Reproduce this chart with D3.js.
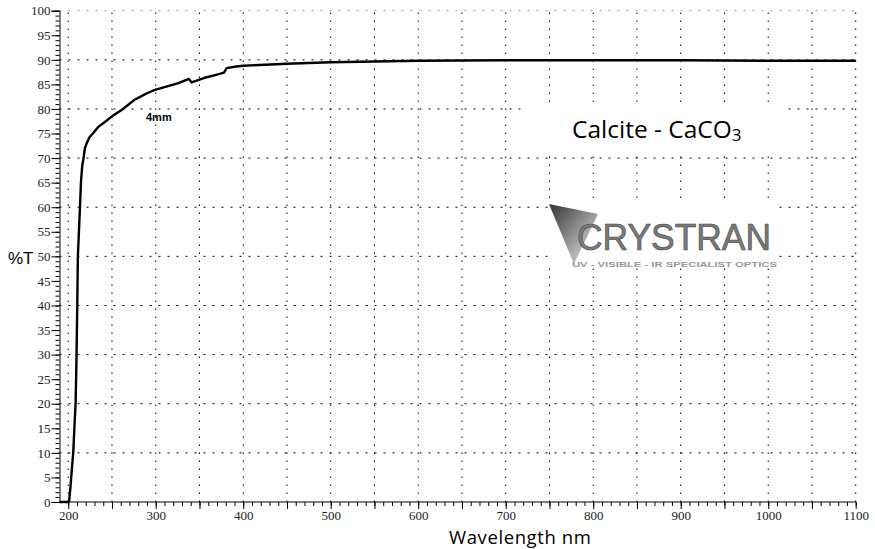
<!DOCTYPE html>
<html>
<head>
<meta charset="utf-8">
<script src="https://cdn.jsdelivr.net/npm/d3@7"></script>
<style>
  body { margin: 0; background: #fff; }
  svg { display: block; }
</style>
</head>
<body>
<script>
// transmission curve, 4mm calcite
const wavelength = [190, 200, 201, 202.5, 204, 205.7, 207, 208.4, 209.5, 210.3, 211, 212.2, 213.4, 214.5, 216, 217.5,
    219, 221, 224.5, 228.6, 234, 240, 250, 261, 276, 290, 299, 315, 325, 338, 341, 355, 370, 378, 381, 390,
    400, 450, 500, 600, 700, 800, 900, 1000, 1100];
const transmission = [0, 0, 0.3, 3, 6.5, 10, 15, 20, 30, 40, 50, 55, 60, 65, 68.5, 70,
    72, 73, 74.3, 75.1, 76.3, 77.1, 78.5, 79.8, 81.9, 83.2, 83.9, 84.7, 85.2, 86.1, 85.4, 86.3, 87.0, 87.4, 88.3, 88.6,
    88.8, 89.2, 89.5, 89.8, 89.9, 89.9, 89.9, 89.8, 89.8];

const xLabels = [200, 300, 400, 500, 600, 700, 800, 900, 1000, 1100];
const yLabels = [0, 5, 10, 15, 20, 25, 30, 35, 40, 45, 50, 55, 60, 65, 70, 75, 80, 85, 90, 95, 100];
const xGrid = d3.range(200, 1101, 50);
const yGrid = d3.range(10, 101, 10);

const width = 875;
const height = 549;

const svg = d3.select('body').append('svg')
    .attr('width', width)
    .attr('height', height);

const x = d3.scaleLinear().domain([190, 1100]).range([59.5, 855.7]);
const y = d3.scaleLinear().domain([0, 100]).range([502, 10.7]);

// grid
svg.append('g').selectAll('line')
    .data(xGrid)
    .join('line')
    .attr('x1', d => x(d)).attr('x2', d => x(d))
    .attr('y1', y(0)).attr('y2', y(100))
    .attr('stroke', '#000')
    .attr('stroke-width', 1)
    .attr('stroke-dasharray', '1.5,6.5');

svg.append('g').selectAll('line')
    .data(yGrid)
    .join('line')
    .attr('x1', x(190)).attr('x2', x(1100))
    .attr('y1', d => y(d)).attr('y2', d => y(d))
    .attr('stroke', d => d === 100 ? '#999' : '#000')
    .attr('stroke-width', 1)
    .attr('stroke-dasharray', '2,7');

// white boxes behind the title and logo
svg.append('rect')
    .attr('x', 525).attr('y', 104).attr('width', 263).attr('height', 50)
    .attr('fill', '#fff');
svg.append('rect')
    .attr('x', 549).attr('y', 203).attr('width', 230).attr('height', 65)
    .attr('fill', '#fff');

// axes
const yMinor = d3.axisLeft(y).tickValues(d3.range(0, 101, 1)).tickSize(4).tickFormat('');
svg.append('g')
    .attr('transform', `translate(${x(190)},0)`)
    .call(yMinor)
    .call(g => g.select('.domain').remove());

const yAxis = d3.axisLeft(y).tickValues(yLabels).tickSize(8).tickPadding(1);
svg.append('g')
    .attr('transform', `translate(${x(190)},0)`)
    .call(yAxis)
    .call(g => g.selectAll('text')
        .attr('font-family', 'Liberation Serif')
        .attr('font-size', 13)
        .attr('fill', '#222'));

const xMinor = d3.axisBottom(x).tickValues(d3.range(200, 1101, 10)).tickSize(4).tickFormat('');
svg.append('g')
    .attr('transform', `translate(0,${y(0)})`)
    .call(xMinor)
    .call(g => g.select('.domain').remove());

const xAxis = d3.axisBottom(x).tickValues(xGrid).tickSize(7).tickPadding(2)
    .tickFormat(d => xLabels.includes(d) ? d : '');
svg.append('g')
    .attr('transform', `translate(0,${y(0)})`)
    .call(xAxis)
    .call(g => g.select('.domain').attr('d', `M${x(190)},0H${x(1100)}`))
    .call(g => g.selectAll('text')
        .attr('font-family', 'Liberation Serif')
        .attr('font-size', 13)
        .attr('fill', '#222'));

// curve
const line = d3.line()
    .x((d, i) => x(wavelength[i]))
    .y(d => y(d));

svg.append('path')
    .datum(transmission)
    .attr('fill', 'none')
    .attr('stroke', '#000')
    .attr('stroke-width', 2.4)
    .attr('stroke-linejoin', 'round')
    .attr('d', line);

// labels
svg.append('text')
    .attr('x', 8).attr('y', 264)
    .attr('font-family', 'Liberation Sans')
    .attr('font-size', 17)
    .text('%T');

svg.append('text')
    .attr('x', 146).attr('y', 121)
    .attr('font-family', 'Liberation Sans')
    .attr('font-weight', 'bold')
    .attr('font-size', 11)
    .text('4mm');

svg.append('text')
    .attr('x', 449).attr('y', 543.5)
    .attr('font-family', 'Open Sans')
    .attr('font-size', 18.5)
    .attr('letter-spacing', 0.6)
    .text('Wavelength nm');

const title = svg.append('text')
    .attr('x', 572).attr('y', 138)
    .attr('font-family', 'Open Sans')
    .attr('font-size', 24.5);
title.append('tspan').text('Calcite - CaCO');
title.append('tspan').attr('font-size', 17).attr('dy', 3).text('3');

// logo
const grad = svg.append('defs').append('linearGradient')
    .attr('id', 'tri')
    .attr('x1', '0').attr('y1', '0').attr('x2', '1').attr('y2', '1');
grad.append('stop').attr('offset', '0%').attr('stop-color', '#333');
grad.append('stop').attr('offset', '100%').attr('stop-color', '#eee');

svg.append('path')
    .attr('d', 'M549,204 L598,214 L574,264 Z')
    .attr('fill', 'url(#tri)');

svg.append('text')
    .attr('x', 577).attr('y', 250)
    .attr('font-family', 'Liberation Sans')
    .attr('font-size', 36)
    .attr('textLength', 194)
    .attr('lengthAdjust', 'spacingAndGlyphs')
    .attr('fill', '#7a7a7a')
    .attr('stroke', '#444')
    .attr('stroke-width', 0.6)
    .text('CRYSTRAN');

svg.append('text')
    .attr('x', 572).attr('y', 266.5)
    .attr('font-family', 'Liberation Sans')
    .attr('font-weight', 'bold')
    .attr('font-size', 8)
    .attr('textLength', 205)
    .attr('lengthAdjust', 'spacingAndGlyphs')
    .attr('fill', '#999')
    .text('UV - VISIBLE - IR SPECIALIST OPTICS');
</script>
</body>
</html>
